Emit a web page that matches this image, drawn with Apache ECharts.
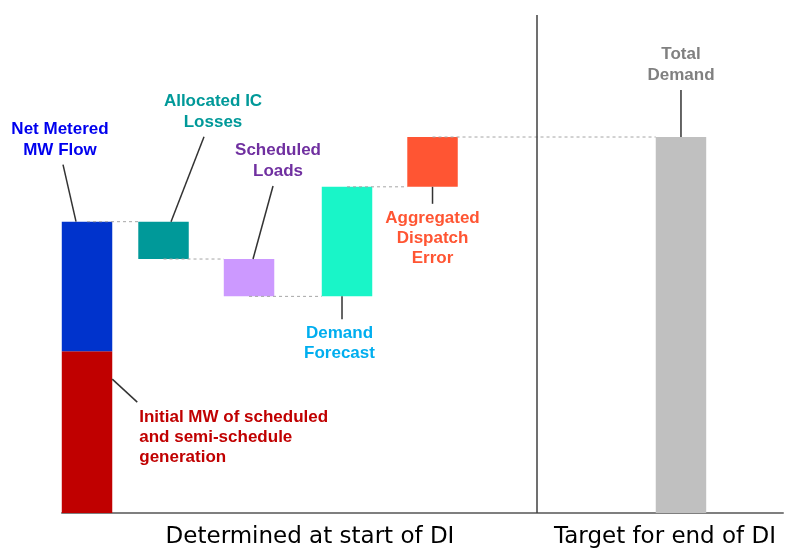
<!DOCTYPE html>
<html><head><meta charset="utf-8">
<script src="https://cdn.jsdelivr.net/npm/echarts@6/dist/echarts.min.js"></script>
<style>html,body{margin:0;padding:0;background:#fff}#c{width:788px;height:549px}</style>
</head><body><div id="c"></div>
<script>
// ---- data ----
const stepNames = ['Initial MW of scheduled\nand semi-schedule\ngeneration', 'Net Metered\nMW Flow', 'Allocated IC\nLosses', 'Scheduled\nLoads', 'Demand\nForecast', 'Aggregated\nDispatch\nError', 'Total\nDemand'];
const stepChanges = [32.5, 26, -7.5, -7.5, 22, 10];
const totalDemand = 75.5;
const slotValues = [3.47, 3.47, 14.08, 25.94, 39.53, 51.39, 85.85];
const dividerValue = 65.88;
const sectionLabels = ['Determined at start of DI', 'Target for end of DI'];

// ---- styles ----
const barColors = ['#C00000', '#0033CC', '#009999', '#CC99FF', '#19F5C8', '#FF5533', '#C0C0C0'];
const labelColors = ['#C00000', '#0000EE', '#009999', '#7030A0', '#00AEEF', '#FF5533', '#808080'];
const barWidthUnits = 7;
// anchor: which point of the bar the callout hangs from; offsets in px
const callouts = [
  {anchor: 'rightTop', lead: [0, 28, 25, 51], tx: 27, ty: 56, align: 'left', va: 'top', lh: 20},
  {anchor: 'top', lead: [-11, 0, -24, -57], tx: -27, ty: -61, align: 'center', va: 'bottom', lh: 21},
  {anchor: 'top', lead: [7.5, 0, 40.5, -85], tx: 49.5, ty: -88.5, align: 'center', va: 'bottom', lh: 21},
  {anchor: 'top', lead: [4, 0, 24, -73], tx: 29, ty: -77.5, align: 'center', va: 'bottom', lh: 21},
  {anchor: 'bottom', lead: [-5, 0, -5, 23], tx: -7.5, ty: 26.5, align: 'center', va: 'top', lh: 20},
  {anchor: 'bottom', lead: [0, 0, 0, 17], tx: 0, ty: 22, align: 'center', va: 'top', lh: 20},
  {anchor: 'top', lead: [0, 0, 0, -47], tx: 0, ty: -51.5, align: 'center', va: 'bottom', lh: 21}
];

// build waterfall items: [x, low, high, endLevel, nextX]
const items = [];
let level = 0;
for (let i = 0; i < stepChanges.length; i++) {
  const end = level + stepChanges[i];
  const nextX = (i === 0) ? -1 : slotValues[i + 1];
  items.push([slotValues[i], Math.min(level, end), Math.max(level, end), end, nextX]);
  level = end;
}
items.push([slotValues[6], 0, totalDemand, totalDemand, -1]);

function renderItem(params, api) {
  const i = params.dataIndex;
  const x = api.value(0), lo = api.value(1), hi = api.value(2), end = api.value(3), nx = api.value(4);
  const w = api.size([barWidthUnits, 0])[0];
  const pTop = api.coord([x, hi]);
  const pBot = api.coord([x, lo]);
  const children = [];
  children.push({type: 'rect', shape: {x: pTop[0] - w / 2, y: pTop[1], width: w, height: pBot[1] - pTop[1]},
    style: {fill: barColors[i]}});
  if (nx >= 0) {
    const pe = api.coord([x, end]);
    const pn = api.coord([nx, end]);
    children.push({type: 'line', shape: {x1: pe[0], y1: pe[1], x2: pn[0] - w / 2, y2: pe[1]},
      style: {stroke: '#A6A6A6', lineWidth: 1, lineDash: [3, 3]}});
  }
  const c = callouts[i];
  let ax, ay;
  if (c.anchor === 'top') { ax = pTop[0]; ay = pTop[1]; }
  else if (c.anchor === 'bottom') { ax = pBot[0]; ay = pBot[1]; }
  else { ax = pTop[0] + w / 2; ay = pTop[1]; }
  children.push({type: 'line', shape: {x1: ax + c.lead[0], y1: ay + c.lead[1], x2: ax + c.lead[2], y2: ay + c.lead[3]},
    style: {stroke: '#333333', lineWidth: 1.5}});
  children.push({type: 'text', x: ax + c.tx, y: ay + c.ty,
    style: {text: stepNames[i], fill: labelColors[i], font: 'bold 17px "Liberation Sans", Arial, sans-serif',
      align: c.align, verticalAlign: c.va, lineHeight: c.lh}});
  return {type: 'group', children: children};
}

const chart = echarts.init(document.getElementById('c'), null, {renderer: 'canvas'});
chart.setOption({
  animation: false,
  backgroundColor: '#ffffff',
  grid: {left: 62, right: 5, top: 15, bottom: 36},
  xAxis: {type: 'value', min: 0, max: 100, axisLine: {show: true, onZero: false, lineStyle: {color: '#7F7F7F', width: 2}},
    axisTick: {show: false}, axisLabel: {show: false}, splitLine: {show: false}},
  yAxis: {type: 'value', min: 0, max: 100, show: false, splitLine: {show: false}},
  series: [{
    type: 'custom', renderItem: renderItem, data: items, encode: {x: 0, y: [1, 2]}, clip: false,
    markLine: {silent: true, symbol: 'none', label: {show: false},
      lineStyle: {color: '#404040', width: 1.5, type: 'solid'}, data: [{xAxis: dividerValue}]}
  }],
  graphic: [
    {type: 'text', x: 310, y: 537, style: {text: sectionLabels[0], fill: '#000', font: '23px "DejaVu Sans", sans-serif', align: 'center', verticalAlign: 'middle'}},
    {type: 'text', x: 665, y: 537, style: {text: sectionLabels[1], fill: '#000', font: '23px "DejaVu Sans", sans-serif', align: 'center', verticalAlign: 'middle'}}
  ]
});
</script></body></html>
